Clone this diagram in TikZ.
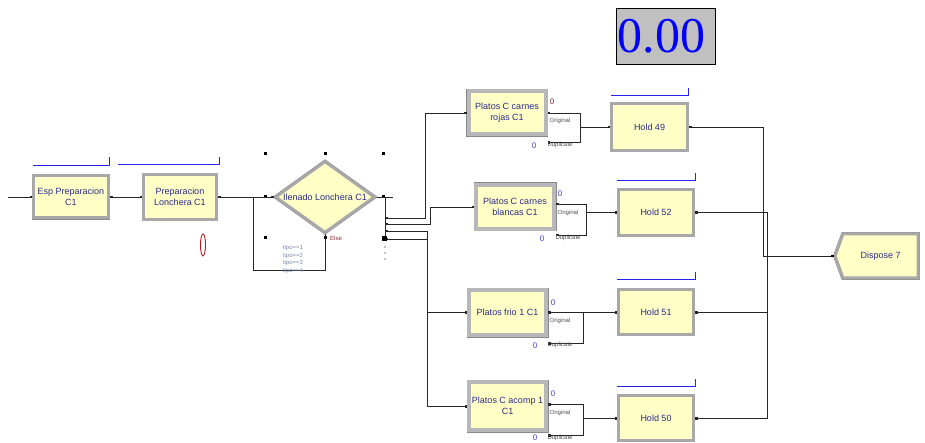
\documentclass[tikz,border=0pt]{standalone}
\usepackage{fontspec}
\setmainfont{Liberation Sans}
\newfontfamily\countfont{Liberation Serif}
\usetikzlibrary{arrows.meta,shapes.geometric,shapes.symbols}
\definecolor{modfill}{HTML}{FFFFC6}
\definecolor{modedge}{HTML}{A8A8A8}
\definecolor{modrim}{HTML}{8A8A8A}
\definecolor{sepedge}{HTML}{B8B8B8}
\definecolor{modtext}{HTML}{2A2A8C}
\definecolor{queueblue}{HTML}{2424EE}
\definecolor{countgray}{HTML}{C0C0C0}
\definecolor{elsered}{HTML}{8A2A3A}
\definecolor{zeroblue}{HTML}{4040C8}
\definecolor{tipogray}{HTML}{7A88AA}
\definecolor{animred}{HTML}{B02020}

\begin{document}
\begin{tikzpicture}[x=1pt,y=-1pt,
    module/.style={draw=modedge,line width=3pt,fill=modfill,text=modtext,
      preaction={draw=modrim,line width=3.8pt},
      font=\fontsize{9}{11}\selectfont,align=center,inner sep=0pt},
    sepmod/.style={module,draw=sepedge,line width=4pt,
      preaction={draw=modrim,line width=5pt}},
    queue/.style={queueblue,line width=0.8pt},
    wire/.style={black!85,line width=0.6pt},
    link/.style={wire,{Square[length=2.2pt,width=2.2pt]}-{Square[length=2.2pt,width=2.2pt]}},
    exitline/.style={wire,{Square[length=2.2pt,width=2.2pt]}-},
    entryline/.style={wire,-{Square[length=2.2pt,width=2.2pt]}},
    portlbl/.style={font=\fontsize{6}{6}\selectfont,inner sep=0pt,text=black!70},
    zerolbl/.style={font=\fontsize{8}{8}\selectfont,inner sep=0pt,text=zeroblue},
    tipolbl/.style={font=\fontsize{6}{6}\selectfont,inner sep=0pt,text=tipogray}]

    \useasboundingbox (0,0) rectangle (925,443);

    % counter
    \node[draw=black,line width=0.8pt,fill=countgray,minimum width=99pt,
          minimum height=56pt,text width=96pt,align=left,inner xsep=1.5pt,
          inner ysep=0pt,text=blue,font=\countfont\fontsize{50}{50}\selectfont]
          (cnt) at (665.5,36) {0.00};

    % modules
    \node[module,minimum width=75pt,minimum height=42pt] (esp) at (71,197) {Esp Preparacion\\C1};
    \node[module,minimum width=73pt,minimum height=45pt] (prep) at (180,197) {Preparacion\\Lonchera C1};
    \node[module,diamond,aspect=1.36,minimum width=100pt,minimum height=72pt] (llen) at (325,197) {Ilenado Lonchera C1};

    \node[sepmod,minimum width=77pt,minimum height=43pt] (rojas) at (507,113) {Platos C carnes\\rojas C1};
    \node[sepmod,minimum width=78pt,minimum height=44pt] (blancas) at (515,207) {Platos C carnes\\blancas C1};
    \node[sepmod,minimum width=77pt,minimum height=45pt] (frio) at (507.5,312.5) {Platos frio 1 C1};
    \node[sepmod,minimum width=77pt,minimum height=48pt] (acomp) at (507.5,406) {Platos C acomp 1\\C1};

    \node[module,minimum width=76pt,minimum height=47pt] (hold49) at (649.5,127) {Hold 49};
    \node[module,minimum width=75pt,minimum height=46pt] (hold52) at (656,212.5) {Hold 52};
    \node[module,minimum width=75pt,minimum height=45pt] (hold51) at (656,312) {Hold 51};
    \node[module,minimum width=75pt,minimum height=45pt] (hold50) at (656,418) {Hold 50};

    \node[module,signal,signal to=west,signal pointer angle=140,
          minimum width=83pt,minimum height=44pt] (disp) at (880.5,256) {Dispose 7};

    % queues
    \draw[queue] (33,165) -- (109,165) -- (109,157);
    \draw[queue] (118,164) -- (219,164) -- (219,157);
    \draw[queue] (611,95) -- (688,95) -- (688,88);
    \draw[queue] (617,180) -- (695,180) -- (695,173);
    \draw[queue] (617,279) -- (695,279) -- (695,272);
    \draw[queue] (617,386) -- (695,386) -- (695,379);

    % animation
    \draw[animred,line width=0.9pt] (203,245) ellipse (2.5 and 11);

    % selection handles of the decide
    \foreach \x/\y in {265/154,325/154,383/154,265/197,383/197,265/238,325/238,383/238}
        \fill (\x-1.5,\y-1.5) rectangle ++(3,3);

    % connections
    \coordinate (src) at (8,197);
    \draw[entryline] (src) -- (esp.west);
    \draw[link] (esp.east) -- (prep.west);
    \draw[link] (prep.east) -- (llen.west);

    \draw[wire] (llen.east) -- (393,197);
    \draw[wire] (385,197) -- (385,239);
    \coordinate (d1) at (385,218);
    \coordinate (d2) at (385,224);
    \coordinate (d3) at (385,231);
    \coordinate (d4) at (385,239);
    \draw[link] (d1) -- (425,218) |- (rojas.west);
    \draw[link] (d2) -- (430,224) |- (blancas.west);
    \draw[link] (d3) -- (427,231) |- (frio.west);
    \draw[link] (d4) -- (427,239) |- (acomp.west);
    \fill (382,236) rectangle ++(5,5);
    \foreach \y in {247,253,259} \fill (385,\y) circle (0.6);

    \draw[wire] (llen.south) -- (325,270) -| (253,197);

    \coordinate (jr) at (580,127);
    \draw[exitline] (rojas.east) -| (jr);
    \draw[exitline] ([yshift=-6pt]rojas.south east) -| (jr);
    \draw[entryline] (jr) -- (hold49.west);

    \coordinate (jb) at (586,212.5);
    \draw[exitline] ([yshift=3pt]blancas.east) -| (jb);
    \draw[exitline] ([yshift=-4pt]blancas.south east) -| (jb);
    \draw[entryline] (jb) -- (hold52.west);

    \coordinate (jf) at (583,312);
    \draw[exitline] (frio.east) -| (jf);
    \draw[exitline] ([yshift=-6pt]frio.south east) -| (jf);
    \draw[entryline] (jf) -- (hold51.west);

    \coordinate (ja) at (583,418);
    \draw[exitline] ([yshift=2pt]acomp.east) -| (ja);
    \draw[exitline] ([yshift=-3pt]acomp.south east) -| (ja);
    \draw[entryline] (ja) -- (hold50.west);

    \coordinate (jd1) at (763,256);
    \coordinate (jd2) at (767,256);
    \draw[exitline] (hold49.east) -| (jd1) -- (disp.west);
    \draw[exitline] (hold52.east) -| (jd2);
    \draw[exitline] (hold51.east) -| (jd2);
    \draw[exitline] (hold50.east) -| (jd2);
    \fill (disp.west) ++(-2,-1) rectangle ++(2.5,2.5);

    % decide labels
    \node[portlbl,text=elsered] (elselbl) at (336,238) {Else};
    \node[tipolbl] (tipo1) at (293,248) {tipo==1};
    \node[tipolbl] (tipo2) at (293,256) {tipo==2};
    \node[tipolbl] (tipo3) at (293,263) {tipo==3};
    \node[tipolbl] (tipo4) at (293,271) {tipo==4};

    % separate labels
    \node[zerolbl,text=elsered] (r0a) at (552,102) {0};
    \node[portlbl] (rorig) at (560,121) {Original};
    \node[zerolbl] (r0b) at (534,146) {0};
    \node[portlbl] (rdup) at (560,145) {Duplicate};

    \node[zerolbl] (b0a) at (560,194) {0};
    \node[portlbl] (borig) at (568,213) {Original};
    \node[zerolbl] (b0b) at (542,239) {0};
    \node[portlbl] (bdup) at (568,238) {Duplicate};

    \node[zerolbl] (f0a) at (553,303) {0};
    \node[portlbl] (forig) at (560,321) {Original};
    \node[zerolbl] (f0b) at (535,346) {0};
    \node[portlbl] (fdup) at (560,345) {Duplicate};

    \node[zerolbl] (a0a) at (553,394) {0};
    \node[portlbl] (aorig) at (560,413) {Original};
    \node[zerolbl] (a0b) at (535,438) {0};
    \node[portlbl] (adup) at (560,438) {Duplicate};
\end{tikzpicture}
\end{document}
